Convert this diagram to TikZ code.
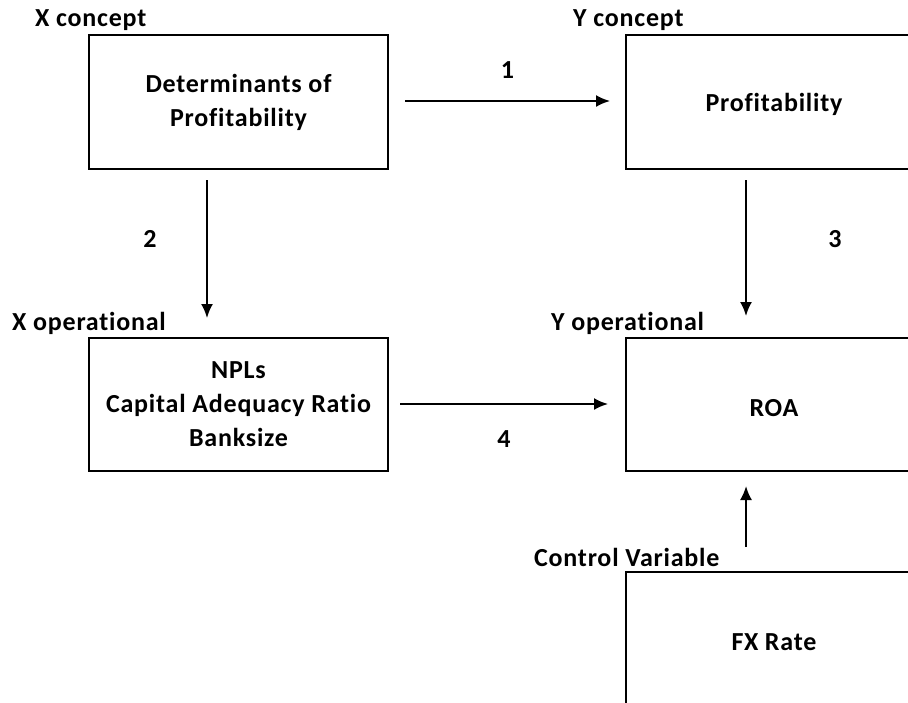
\documentclass[tikz,border=0pt]{standalone}
\usepackage{fontspec}
\setmainfont{Carlito}[LetterSpace=3,RawFeature=-liga]
\usetikzlibrary{arrows.meta}
\tikzset{
  box/.style={draw,line width=1.8pt,align=center,font=\bfseries\fontsize{26}{34}\selectfont},
  onebox/.style={box,text height=24pt},
  lbl/.style={font=\bfseries\fontsize{26}{30}\selectfont,inner sep=0pt},
  arr/.style={line width=2pt,-{Latex[length=14pt,width=12pt]}}
}
\begin{document}
\begin{tikzpicture}[x=1pt,y=-1pt]
        \useasboundingbox (0,0) rectangle (908,702);
        \clip (0,0) rectangle (908,702);
        %% Boxes
        \node[box,minimum width=299,minimum height=134] (det) at (238.5,102) {Determinants of\\Profitability};
        \node[onebox,minimum width=296,minimum height=134] (prof) at (774,102) {Profitability};
        \node[box,minimum width=299,minimum height=133] (xop) at (238.5,404.5) {NPLs\\Capital Adequacy Ratio\\Banksize};
        \node[onebox,minimum width=296,minimum height=133] (roa) at (774,404.5) {ROA};
        \node[onebox,minimum width=296,minimum height=134] (fx) at (774,639) {FX Rate};
        %% Labels
        \node[lbl,anchor=west] (xc) at (35,20) {X concept};
        \node[lbl,anchor=west] (yc) at (573,20) {Y concept};
        \node[lbl,anchor=west] (xo) at (12,323) {X operational};
        \node[lbl,anchor=west] (yo) at (551,323) {Y operational};
        \node[lbl,anchor=west] (cv) at (534,557) {Control Variable};
        %% Arrows
        \coordinate (a1) at (405,101);
        \coordinate (b1) at (610,101);
        \draw[arr] (a1) -- (b1) node[lbl,midway,above=22pt] {1};
        \coordinate (a2) at (207,180);
        \coordinate (b2) at (207,318);
        \draw[arr] (a2) -- (b2);
        \node[lbl] (n2) at (150,239) {2};
        \coordinate (a3) at (746,180);
        \coordinate (b3) at (746,316);
        \draw[arr] (a3) -- (b3);
        \node[lbl] (n3) at (835,239) {3};
        \coordinate (a4) at (400,404);
        \coordinate (b4) at (608,404);
        \draw[arr] (a4) -- (b4) node[lbl,midway,below=26pt] {4};
        \coordinate (a5) at (746,547);
        \coordinate (b5) at (746,486);
        \draw[arr] (a5) -- (b5);
\end{tikzpicture}
\end{document}
